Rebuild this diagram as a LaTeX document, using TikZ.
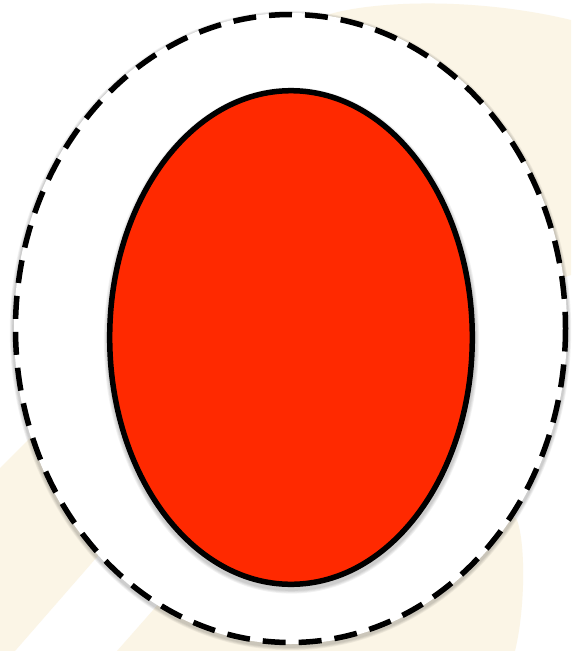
\documentclass[tikz,border=0pt]{standalone}
\begin{document}
\begin{tikzpicture}[x=1pt,y=-1pt]
\definecolor{cream}{HTML}{FBF5E6}
\definecolor{eggred}{HTML}{FF2900}
\tikzset{
  creamfill/.style={fill=cream,draw=none},
  shadowlayer/.style={fill=black,fill opacity=0.05,draw=none},
  outerring/.style={draw=black,line width=5.5pt,dash pattern=on 23pt off 13pt,fill=white},
  yolk/.style={draw=black,line width=5.5pt,fill=eggred}
}
\useasboundingbox[fill=white] (0,0) rectangle (571,651);
% faint background shapes
\path[creamfill] (310,40) -- (330,14) .. controls (380,0) and (480,-2) .. (571,20) -- (571,275) -- (500,300) -- cycle;
\path[creamfill] (0,468) -- (80,388) -- (160,480) -- (97,557) -- (15,651) -- (0,651) -- cycle;
\path[creamfill] (117,651) -- (250,500) -- (450,450) -- (517,520) .. controls (526,545) and (525,610) .. (515,651) -- cycle;
% outer shadow
\foreach \d in {1,2,3,4}{
  \path[shadowlayer] (290.5,330.5) ellipse [x radius=277.5+\d*0.8, y radius=316.5+\d*0.8];
}
% outer dashed ellipse
\node[coordinate] (outerc) at (290.5,328.5) {};
\path[fill=white] (outerc) ellipse [x radius=276.5, y radius=315.5];
\draw[outerring] (outerc) ellipse [x radius=275, y radius=314];
% inner shadow
\foreach \d in {1,2,3,4}{
  \path[shadowlayer] (291.5,340.5) ellipse [x radius=184+\d*0.9, y radius=249.5+\d*0.9];
}
% inner red ellipse
\node[coordinate] (innerc) at (291,337.5) {};
\draw[yolk] (innerc) ellipse [x radius=181.3, y radius=246.8];
\end{tikzpicture}
\end{document}
